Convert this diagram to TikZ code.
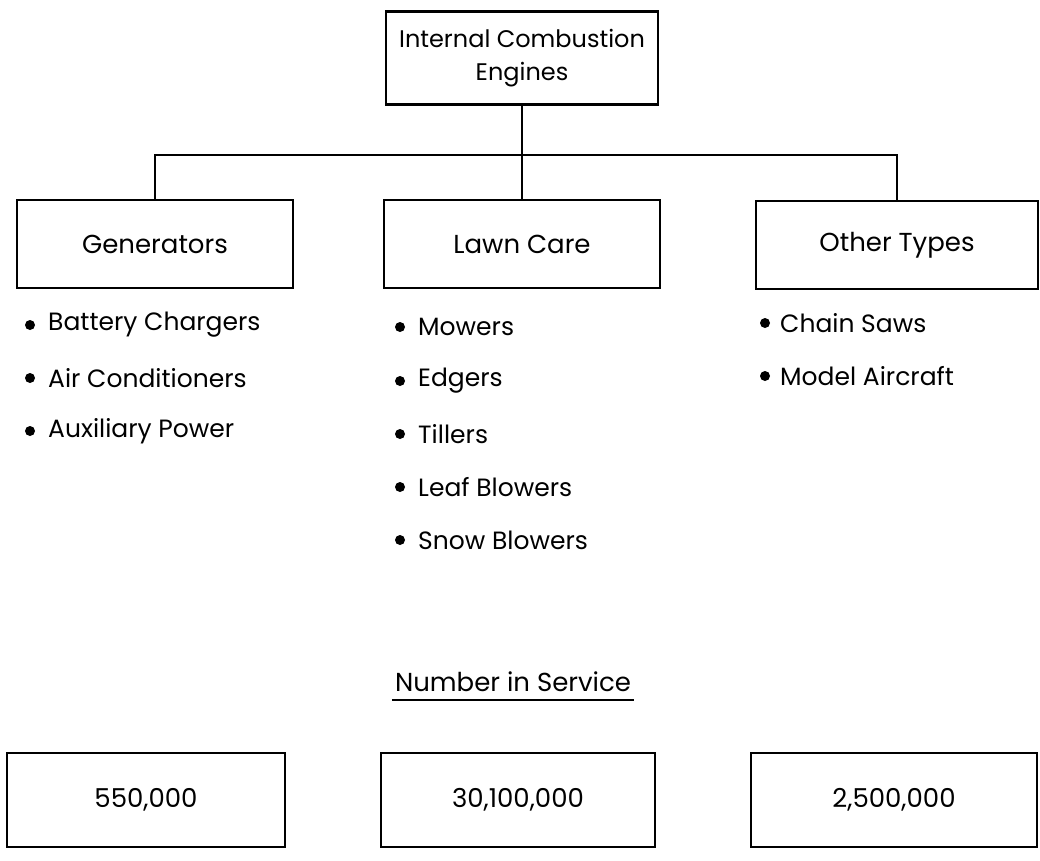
\documentclass[tikz,border=0pt]{standalone}
\usepackage{fontspec}
\setmainfont{Poppins}
\begin{document}
\begin{tikzpicture}[x=1pt,y=-1pt,
  box/.style={draw, line width=2.4pt, minimum width=276pt, minimum height=88pt, inner sep=0pt, font=\fontsize{26}{30}\selectfont, align=center},
  nbox/.style={draw, line width=2.6pt, minimum width=276pt, minimum height=94pt, inner sep=0pt, font=\fontsize{26}{30}\selectfont},
  item/.style={anchor=west, font=\fontsize{25}{30}\selectfont, inner sep=0pt},
  bul/.style={circle, fill, inner sep=0pt, minimum size=10pt},
  conn/.style={line width=2.4pt}]
\useasboundingbox (0,0) rectangle (1040,860);
\node[box, minimum width=272pt, minimum height=93pt, font=\fontsize{24}{30}\selectfont] (top) at (522,58) {Internal Combustion\\[3pt]Engines};
\node[box] (gen) at (155,244) {Generators};
\node[box] (lawn) at (522,244) {Lawn Care};
\node[box, minimum width=282pt] (oth) at (897,245) {Other Types};
\coordinate (hl) at (155,155);
\coordinate (hr) at (897,155);
\draw[conn] (top.south) -- (lawn.north);
\draw[conn] (gen.north) -- (hl) -- (hr) -- (oth.north);
% Generators list
\node[bul] (gb1) at (30,325) {}; \node[item] (gt1) at (48,325) {Battery Chargers};
\node[bul] (gb2) at (30,378) {}; \node[item] (gt2) at (48,378) {Air Conditioners};
\node[bul] (gb3) at (30,431) {}; \node[item] (gt3) at (48,431) {Auxiliary Power};
% Lawn list
\node[bul] (lb1) at (400,327) {}; \node[item] (lt1) at (418,327) {Mowers};
\node[bul] (lb2) at (400,381) {}; \node[item] (lt2) at (418,381) {Edgers};
\node[bul] (lb3) at (400,434) {}; \node[item] (lt3) at (418,434) {Tillers};
\node[bul] (lb4) at (400,487) {}; \node[item] (lt4) at (418,487) {Leaf Blowers};
\node[bul] (lb5) at (400,540) {}; \node[item] (lt5) at (418,540) {Snow Blowers};
% Other list
\node[bul] (ob1) at (765,323) {}; \node[item] (ot1) at (780,323) {Chain Saws};
\node[bul] (ob2) at (765,376) {}; \node[item] (ot2) at (780,376) {Model Aircraft};
% Number in service
\node[font=\fontsize{26}{30}\selectfont, inner sep=0pt] (nis) at (513,682) {Number in Service};
\draw[line width=2.4pt] ([xshift=-3pt,yshift=-8pt]nis.south west) -- ([xshift=3pt,yshift=-8pt]nis.south east);
\node[nbox, minimum width=278pt] (n1) at (146,800) {550,000};
\node[nbox, minimum width=274pt] (n2) at (518,800) {30,100,000};
\node[nbox, minimum width=286pt] (n3) at (894,800) {2,500,000};
\end{tikzpicture}
\end{document}
